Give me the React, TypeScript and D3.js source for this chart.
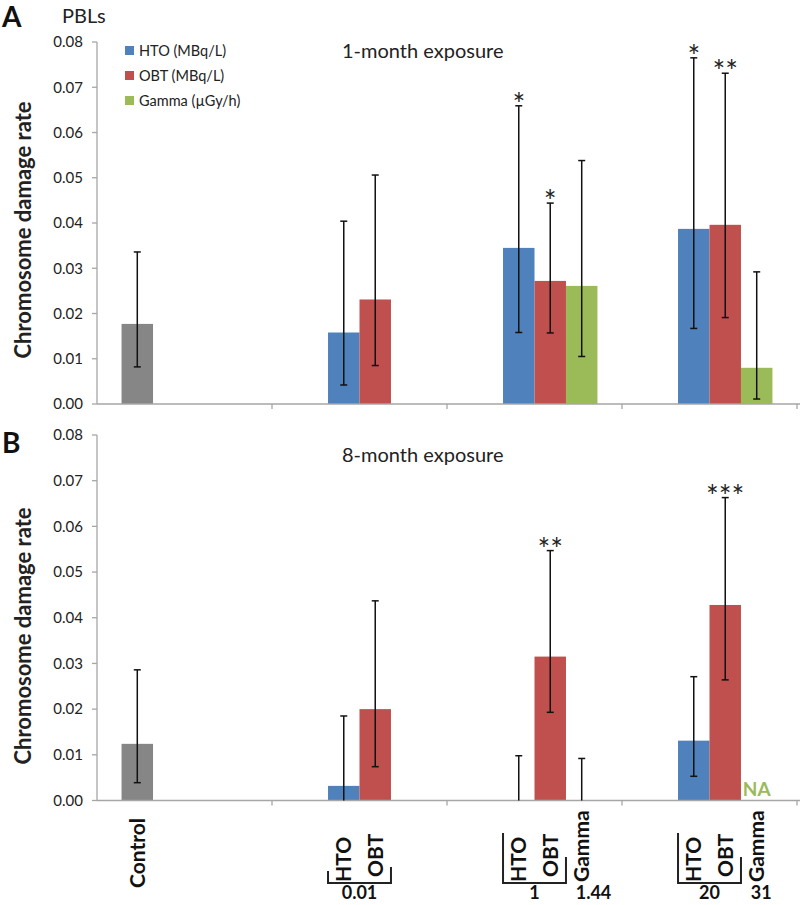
import React from 'react';
import * as d3 from 'd3';

// categories along the x axis (dose groups)
const categories = ['Control', '0.01', '1', '20'];
const seriesNames = ['Control', 'HTO', 'OBT', 'Gamma'];
const doseLevels = ['0.01', '1', '20'];
const gammaDoses = ['', '1.44', '31'];
const yTicks = [0, 0.01, 0.02, 0.03, 0.04, 0.05, 0.06, 0.07, 0.08];
const legendLabels = ['HTO (MBq/L)', 'OBT (MBq/L)', 'Gamma (µGy/h)'];

// Panel A: 1-month exposure
const controlA = { mean: 0.0177, low: 0.0082, high: 0.0336 };
const htoMeanA = [0.0158, 0.0345, 0.0387];
const htoLowA = [0.0042, 0.0158, 0.0167];
const htoHighA = [0.0404, 0.0659, 0.0765];
const obtMeanA = [0.0231, 0.0272, 0.0396];
const obtLowA = [0.0085, 0.0157, 0.0191];
const obtHighA = [0.0506, 0.0444, 0.0731];
const gammaMeanA = [null, 0.0261, 0.008];
const gammaLowA = [null, 0.0105, 0.0011];
const gammaHighA = [null, 0.0538, 0.0292];
const htoStarsA = ['', '*', '*'];
const obtStarsA = ['', '*', '**'];

// Panel B: 8-month exposure
const controlB = { mean: 0.0124, low: 0.0039, high: 0.0286 };
const htoMeanB = [0.0032, 0, 0.0131];
const htoLowB = [0, 0, 0.0053];
const htoHighB = [0.0185, 0.0098, 0.0271];
const obtMeanB = [0.02, 0.0315, 0.0428];
const obtLowB = [0.0074, 0.0193, 0.0264];
const obtHighB = [0.0437, 0.0547, 0.0663];
const gammaMeanB = [null, 0, null];
const gammaLowB = [null, 0, null];
const gammaHighB = [null, 0.0092, null];
const htoStarsB = ['', '', ''];
const obtStarsB = ['', '**', '***'];

const colors: Record<string, string> = {
  Control: '#868686',
  HTO: '#4F81BD',
  OBT: '#C0504D',
  Gamma: '#9BBB59',
};

const FONT = "Lato, 'Open Sans', sans-serif";
const axisColor = '#A6A6A6';

type Bar = { cat: string; series: string; mean: number; low: number; high: number; stars: string };

const buildBars = (
  control: { mean: number; low: number; high: number },
  hto: number[][], obt: number[][], gamma: (number | null)[][],
  htoStars: string[], obtStars: string[]
): Bar[] => {
  const bars: Bar[] = [{ cat: 'Control', series: 'Control', ...control, stars: '' }];
  doseLevels.forEach((d, i) => {
    bars.push({ cat: d, series: 'HTO', mean: hto[0][i], low: hto[1][i], high: hto[2][i], stars: htoStars[i] });
    bars.push({ cat: d, series: 'OBT', mean: obt[0][i], low: obt[1][i], high: obt[2][i], stars: obtStars[i] });
    if (gamma[0][i] !== null) {
      bars.push({ cat: d, series: 'Gamma', mean: gamma[0][i] as number, low: gamma[1][i] as number, high: gamma[2][i] as number, stars: '' });
    }
  });
  return bars;
};

const barsA = buildBars(controlA, [htoMeanA, htoLowA, htoHighA], [obtMeanA, obtLowA, obtHighA],
  [gammaMeanA, gammaLowA, gammaHighA], htoStarsA, obtStarsA);
const barsB = buildBars(controlB, [htoMeanB, htoLowB, htoHighB], [obtMeanB, obtLowB, obtHighB],
  [gammaMeanB, gammaLowB, gammaHighB], htoStarsB, obtStarsB);

const xLeft = 97;
const xRight = 797;

const x = d3.scaleBand().domain(categories).range([xLeft, xRight]).padding(0);
const xSub = d3.scaleBand().domain(seriesNames).range([0, x.bandwidth()]).paddingInner(0).paddingOuter(0.78);
const slotX = (cat: string, s: string) => (x(cat) as number) + (xSub(s) as number);
const slotC = (cat: string, s: string) => slotX(cat, s) + xSub.bandwidth() / 2;

const Panel = ({ bars, y0, yTop, title, titleY, letter, letterY, labelY, children }: any) => {
  const y = d3.scaleLinear().domain([0, 0.08]).range([y0, yTop]);
  const fmt = d3.format('.2f');
  const cap = 3.5;
  return (
    <g>
      <text x={2} y={letterY} fontFamily={FONT} fontWeight="bold" fontSize={28} fill="#111">{letter}</text>
      <text x={342} y={titleY} fontFamily={FONT} fontSize={20} fill="#222">{title}</text>
      <text transform={`translate(23, ${labelY}) rotate(-90)`} textAnchor="middle" dy="0.35em"
        fontFamily={FONT} fontWeight="bold" fontSize={22} fill="#222">Chromosome damage rate</text>
      {/* y axis */}
      <line x1={xLeft} x2={xLeft} y1={yTop} y2={y0} stroke={axisColor} strokeWidth={1.3} />
      {yTicks.map(t => (
        <g key={t}>
          <line x1={xLeft - 5} x2={xLeft} y1={y(t)} y2={y(t)} stroke={axisColor} strokeWidth={1.3} />
          <text x={83} y={y(t)} dy="0.35em" textAnchor="end" fontFamily={FONT} fontSize={15} fill="#222">{fmt(t)}</text>
        </g>
      ))}
      {/* bars */}
      {bars.map((b: Bar, i: number) => (
        <rect key={'r' + i} x={slotX(b.cat, b.series)} y={y(b.mean)} width={xSub.bandwidth()}
          height={y0 - y(b.mean)} fill={colors[b.series]} />
      ))}
      {/* x axis */}
      <line x1={xLeft} x2={800} y1={y0} y2={y0} stroke={axisColor} strokeWidth={1.3} />
      {categories.map(c => (
        <line key={c} x1={(x(c) as number) + x.bandwidth()} x2={(x(c) as number) + x.bandwidth()}
          y1={y0} y2={y0 + 5} stroke={axisColor} strokeWidth={1.3} />
      ))}
      {/* error bars */}
      {bars.map((b: Bar, i: number) => {
        const cx = slotC(b.cat, b.series);
        return (
          <g key={'e' + i} stroke="#111" strokeWidth={1.5}>
            <line x1={cx} x2={cx} y1={y(b.high)} y2={y(b.low)} />
            <line x1={cx - cap} x2={cx + cap} y1={y(b.high)} y2={y(b.high)} />
            {b.low > 0 && <line x1={cx - cap} x2={cx + cap} y1={y(b.low)} y2={y(b.low)} />}
          </g>
        );
      })}
      {bars.filter((b: Bar) => b.stars).map((b: Bar, i: number) => (
        <text key={'s' + i} x={slotC(b.cat, b.series)} y={y(b.high) + 9} textAnchor="middle"
          fontFamily={FONT} fontSize={30} fill="#222">{b.stars}</text>
      ))}
      {children && children(y)}
    </g>
  );
};

const bracketHeights = [12, 50, 50];
const bracketRight = [16, 26, 26];

export default function App() {
  const labelBase = 882;
  return (
    <svg width={800} height={905} style={{ position: 'absolute', left: 0, top: 0, background: '#fff' }}>
      <text x={62} y={23} fontFamily={FONT} fontSize={20} fill="#222">PBLs</text>
      {legendLabels.map((l, i) => (
        <g key={l}>
          <rect x={125} y={46 + i * 25} width={9} height={9} fill={colors[seriesNames[i + 1]]} />
          <text x={139} y={51 + i * 25} dy="0.35em" fontFamily={FONT} fontSize={14.5} fill="#222">{l}</text>
        </g>
      ))}
      <Panel bars={barsA} y0={404} yTop={42} title="1-month exposure" titleY={58} letter="A" letterY={27} labelY={230} />
      <Panel bars={barsB} y0={800.5} yTop={435} title="8-month exposure" titleY={462} letter="B" letterY={453} labelY={636}>
        {(y: any) => (
          <text x={slotC('20', 'Gamma')} y={y(0) - 5} textAnchor="middle" fontFamily={FONT} fontWeight="bold"
            fontSize={19} fill="#9BBB59">NA</text>
        )}
      </Panel>
      {/* category labels */}
      <text transform={`translate(${slotC('Control', 'Control')}, 888) rotate(-90)`} dy="0.35em"
        fontFamily={FONT} fontWeight="bold" fontSize={21} fill="#111">Control</text>
      {doseLevels.map((d, i) => {
        const left = slotX(d, 'HTO');
        const right = slotX(d, 'OBT') + xSub.bandwidth();
        const series = i === 0 ? ['HTO', 'OBT'] : ['HTO', 'OBT', 'Gamma'];
        return (
          <g key={d}>
            {series.map(s => (
              <text key={s} transform={`translate(${slotC(d, s)}, ${s === 'OBT' ? labelBase - 5 : labelBase}) rotate(-90)`}
                dy="0.35em" fontFamily={FONT} fontWeight="bold" fontSize={21} fill="#111">{s}</text>
            ))}
            <path d={`M${left},${883 - bracketHeights[i]}V883H${right}V${883 - bracketRight[i]}`}
              fill="none" stroke="#222" strokeWidth={2} />
            <text x={(left + right) / 2} y={899} textAnchor="middle" fontFamily={FONT} fontWeight="bold"
              fontSize={18} fill="#111">{d}</text>
            {gammaDoses[i] && (
              <text x={slotC(d, 'Gamma') - 6} y={899} fontFamily={FONT} fontWeight="bold"
                fontSize={18} fill="#111">{gammaDoses[i]}</text>
            )}
          </g>
        );
      })}
    </svg>
  );
}
